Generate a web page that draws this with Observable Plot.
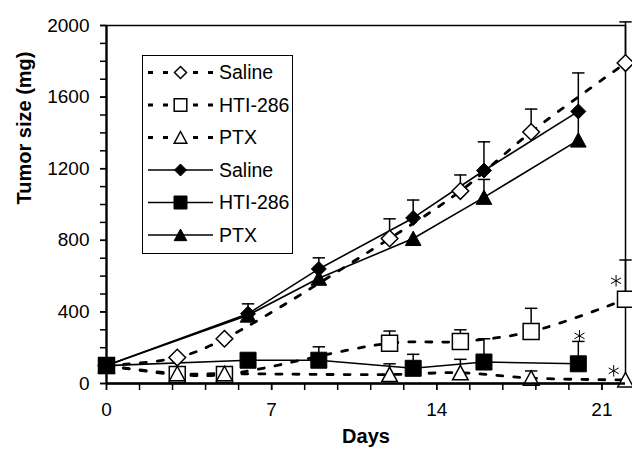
<!DOCTYPE html>
<html><head><meta charset="utf-8">
<script src="https://cdn.jsdelivr.net/npm/d3@7"></script>
<script src="https://cdn.jsdelivr.net/npm/@observablehq/plot@0.6"></script>
<style>html,body{margin:0;padding:0;background:#fff;}</style>
</head><body><div id="chart"></div>
<script>
// ---- tick labels ----
const xTickLabels = [0, 7, 14, 21];
const xMinorTicks = d3.range(16).map(i => i * 1.4);
const yTickLabels = [0, 400, 800, 1200, 1600, 2000];
const yMinorTicks = d3.range(0, 2001, 100);

// ---- dashed series (open markers) ----
const openDays = [0, 3, 5, 12, 15, 18, 22];
const openSaline = [100, 145, 250, 810, 1075, 1405, 1790];
const openSalineErr = [0, 0, 0, 110, 90, 128, 230];
const openHTI = [100, 50, 50, 225, 235, 290, 470];
const openHTIErr = [0, 0, 0, 68, 65, 130, 220];
const openPTX = [100, 55, 55, 50, 60, 30, 20];
const openPTXErr = [0, 0, 0, 60, 75, 40, 0];

// ---- solid series (filled markers) ----
const solidDays = [0, 6, 9, 13, 16, 20];
const solidSaline = [100, 390, 640, 925, 1190, 1520];
const solidSalineErr = [0, 55, 62, 100, 160, 215];
const solidHTI = [100, 130, 130, 85, 120, 110];
const solidHTIErr = [0, 0, 75, 78, 130, 125];
const solidPTX = [100, 382, 588, 810, 1040, 1360];
const solidPTXErr = [0, 0, 0, 0, 100, 160];

const seriesNames = ["Saline", "HTI-286", "PTX", "Saline", "HTI-286", "PTX"];

// ---- significance asterisks ----
const asteriskDays = [20.05, 21.6, 21.5];
const asteriskValues = [266, 574, 71];

// ---- symbols ----
const rad = s => Math.sqrt(s / Math.PI);
const diamondSym = {draw(c, s) { const r = rad(s); c.moveTo(0, -r); c.lineTo(r, 0); c.lineTo(0, r); c.lineTo(-r, 0); c.closePath(); }};
const squareSym = {draw(c, s) { const r = rad(s); c.moveTo(-r, -r); c.lineTo(r, -r); c.lineTo(r, r); c.lineTo(-r, r); c.closePath(); }};
const triangleSym = {draw(c, s) { const r = rad(s); c.moveTo(0, -0.95 * r); c.lineTo(r, 0.9 * r); c.lineTo(-r, 0.9 * r); c.closePath(); }};
const capSym = {draw(c, s) { const r = rad(s); c.moveTo(-r, 0); c.lineTo(r, 0); }};
const asteriskSym = {draw(c, s) {
  const r = rad(s);
  for (const a of [90, 30, 150]) {
    const t = a * Math.PI / 180, dx = r * Math.cos(t), dy = r * Math.sin(t);
    c.moveTo(-dx, -dy); c.lineTo(dx, dy);
  }
}};

const mk = (days, vals, errs) => days.map((d, i) => ({day: d, value: vals[i], err: errs[i]}));
const openSeries = [
  {rows: mk(openDays, openSaline, openSalineErr), sym: diamondSym, r: 8.3},
  {rows: mk(openDays, openHTI, openHTIErr), sym: squareSym, r: 8},
  {rows: mk(openDays, openPTX, openPTXErr), sym: triangleSym, r: 7.8}
];
const solidSeries = [
  {rows: mk(solidDays, solidSaline, solidSalineErr), sym: diamondSym, r: 7.5},
  {rows: mk(solidDays, solidHTI, solidHTIErr), sym: squareSym, r: 8},
  {rows: mk(solidDays, solidPTX, solidPTXErr), sym: triangleSym, r: 7.8}
];
const asterisks = asteriskDays.map((d, i) => ({day: d, value: asteriskValues[i]}));

const marks = [];
marks.push(Plot.frame({strokeWidth: 1.5}));
for (const s of openSeries) {
  marks.push(Plot.line(s.rows, {x: "day", y: "value", curve: "catmull-rom", stroke: "black", strokeWidth: 2.8, strokeDasharray: "6,11"}));
}
for (const s of solidSeries) {
  marks.push(Plot.line(s.rows, {x: "day", y: "value", stroke: "black", strokeWidth: 1.6}));
}
for (const s of [...openSeries, ...solidSeries]) {
  const e = s.rows.filter(d => d.err > 0);
  marks.push(Plot.ruleX(e, {x: "day", y1: "value", y2: d => d.value + d.err, stroke: "black", strokeWidth: 1.5}));
  marks.push(Plot.dot(e, {x: "day", y: d => d.value + d.err, symbol: capSym, r: 6.2, fill: "none", stroke: "black", strokeWidth: 1.5}));
}
for (const s of openSeries) {
  marks.push(Plot.dot(s.rows, {x: "day", y: "value", symbol: s.sym, r: s.r, fill: "white", stroke: "black", strokeWidth: 1.5}));
}
for (const s of solidSeries) {
  marks.push(Plot.dot(s.rows, {x: "day", y: "value", symbol: s.sym, r: s.r, fill: "black", stroke: "black", strokeWidth: 1}));
}
marks.push(Plot.dot(asterisks, {x: "day", y: "value", symbol: asteriskSym, r: 5.8, fill: "none", stroke: "black", strokeWidth: 1}));

// axes
marks.push(Plot.axisY({ticks: yMinorTicks, tickSize: 6, tickFormat: () => "", label: null, strokeWidth: 1.5}));
marks.push(Plot.axisY({ticks: yTickLabels, tickSize: 6, tickPadding: 11, tickFormat: d => String(d), fontSize: 19, label: null, strokeWidth: 1.5}));
marks.push(Plot.axisX({ticks: xMinorTicks, tickSize: 7, tickFormat: () => "", label: null, strokeWidth: 1.5}));
marks.push(Plot.axisX({ticks: xTickLabels, tickSize: 7, tickPadding: 12, tickFormat: d => String(d), fontSize: 19, label: null, strokeWidth: 1.5}));
marks.push(Plot.ruleX([0], {stroke: "black", strokeWidth: 2.2}));
marks.push(Plot.ruleY([0], {stroke: "black", strokeWidth: 2.6}));
marks.push(Plot.text(["Tumor size (mg)"], {text: d => d, frameAnchor: "left", dx: -82, rotate: -90, fontWeight: "bold", fontSize: 20, fill: "black"}));
marks.push(Plot.text(["Days"], {text: d => d, frameAnchor: "bottom", dy: 59, fontWeight: "bold", fontSize: 20, fill: "black"}));

const plot = Plot.plot({
  width: 632, height: 451,
  marginLeft: 106, marginRight: 7, marginTop: 25, marginBottom: 68,
  x: {domain: [0, 22]},
  y: {domain: [0, 2000]},
  style: {fontFamily: "'Liberation Sans', Arial, Helvetica, sans-serif", fontSize: "19px", background: "white", color: "black", overflow: "visible"},
  marks
});
document.getElementById("chart").appendChild(plot);

// ---- legend (inside plot area, top-left) ----
const svg = d3.select(plot);
const lg = svg.append("g").attr("text-anchor", "start");
lg.append("rect").attr("x", 142.5).attr("y", 55.5).attr("width", 150).attr("height", 198)
  .attr("fill", "white").attr("stroke", "black").attr("stroke-width", 1);
const legendItems = [
  {dashed: true, sym: diamondSym, r: 6, fill: "white"},
  {dashed: true, sym: squareSym, r: 6.3, fill: "white"},
  {dashed: true, sym: triangleSym, r: 6.3, fill: "white"},
  {dashed: false, sym: diamondSym, r: 6, fill: "black"},
  {dashed: false, sym: squareSym, r: 6.5, fill: "black"},
  {dashed: false, sym: triangleSym, r: 6.3, fill: "black"}
];
legendItems.forEach((it, i) => {
  const y = 72.5 + i * 32.5;
  const line = lg.append("line").attr("x1", 148).attr("x2", 213).attr("y1", y).attr("y2", y).attr("stroke", "black");
  if (it.dashed) line.attr("stroke-width", 2.8).attr("stroke-dasharray", "5,10");
  else line.attr("stroke-width", 1.6);
  lg.append("path").attr("d", d3.symbol(it.sym, Math.PI * it.r * it.r)()).attr("transform", `translate(180.5,${y})`)
    .attr("fill", it.fill).attr("stroke", "black").attr("stroke-width", it.fill === "white" ? 1.5 : 1);
  lg.append("text").attr("x", 219).attr("y", y).attr("dy", "0.35em").attr("font-size", 19.5).attr("fill", "black")
    .attr("text-anchor", "start").text(seriesNames[i]);
});
</script>
</body></html>
